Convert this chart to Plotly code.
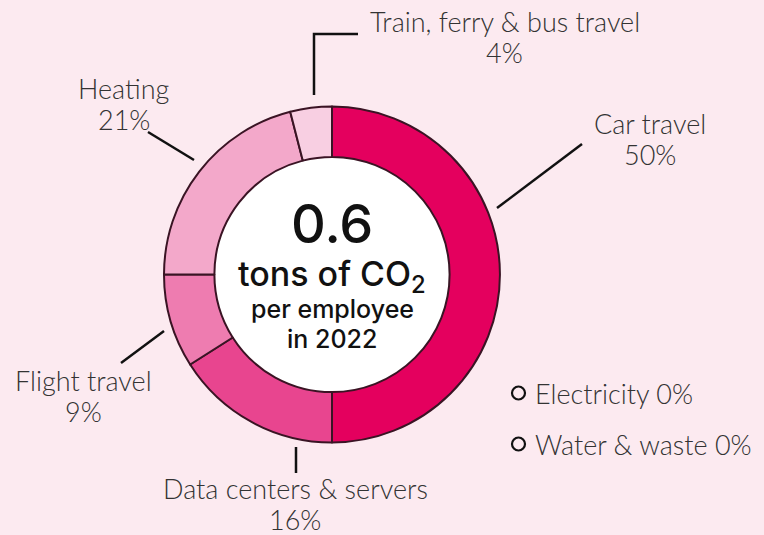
import plotly.graph_objects as go

# ── data ──────────────────────────────────────────────────────────────────────
categories = ["Car travel", "Data centers & servers", "Flight travel",
              "Heating", "Train, ferry & bus travel"]
shares = [50, 16, 9, 21, 4]            # % of total
zero_items = ["Electricity", "Water & waste"]
zero_shares = [0, 0]
tons_per_employee = 0.6
year = 2022

W, H = 764, 535
BG = "#fceaf0"
LINE = "#3a1424"
SLICE_COLORS = ["#e4005e", "#e8458f", "#ee7cb0", "#f3a8ca", "#f8cfe2"]
LABEL_FONT = dict(family="Lato, 'Open Sans', sans-serif", size=27, color="#333333", weight=300)
CENTER_FAMILY = "Inter, Lato, sans-serif"

# donut geometry in pixels
CX, CY, R = 332, 274.5, 168
HOLE = 0.70


def px(x):
    return x / W


def py(y):
    return 1 - y / H


fig = go.Figure()

fig.add_trace(go.Pie(
    labels=categories,
    values=shares,
    sort=False,
    direction="clockwise",
    rotation=0,
    hole=HOLE,
    textinfo="none",
    hovertemplate="%{label}: %{value}%<extra></extra>",
    marker=dict(colors=SLICE_COLORS, line=dict(color=LINE, width=2)),
    domain=dict(x=[px(CX - R), px(CX + R)], y=[py(CY + R), py(CY - R)]),
    showlegend=False,
))

shapes = []
# white centre of the ring
ri = R * HOLE
shapes.append(dict(type="circle", xref="paper", yref="paper", layer="below",
                   x0=px(CX - ri), x1=px(CX + ri), y0=py(CY + ri), y1=py(CY - ri),
                   fillcolor="white", line=dict(width=0)))

# leader lines (pixel coordinates of label connectors)
leaders = {
    "Car travel": [(497, 208), (582, 144)],
    "Data centers & servers": [(296, 447), (296, 473)],
    "Flight travel": [(164, 331), (121, 363)],
    "Heating": [(194, 160), (148, 132)],
    "Train, ferry & bus travel": [(314, 95), (314, 34), (358, 34)],
}
# centre of the two-line label block
label_pos = {
    "Car travel": (650, 139),
    "Data centers & servers": (295, 504),
    "Flight travel": (83, 396),
    "Heating": (124, 104),
    "Train, ferry & bus travel": (505, 37),
}

for cat in categories:
    pts = leaders[cat]
    path = "M " + " L ".join(f"{px(x)},{py(y)}" for x, y in pts)
    shapes.append(dict(type="path", xref="paper", yref="paper", path=path,
                       line=dict(color="#111111", width=2.5)))

annotations = []
for cat, val in zip(categories, shares):
    x, y = label_pos[cat]
    for txt, dy in ((cat, -15.5), (f"{val}%", 15.5)):
        annotations.append(dict(
            x=px(x), y=py(y + dy), xref="paper", yref="paper",
            text=txt, showarrow=False,
            xanchor="center", yanchor="middle", font=LABEL_FONT,
        ))

# zero-share categories as a small key
for i, (name, val) in enumerate(zip(zero_items, zero_shares)):
    yy = 393 + i * 51
    shapes.append(dict(type="circle", xref="paper", yref="paper",
                       x0=px(512), x1=px(525), y0=py(yy + 6.5), y1=py(yy - 6.5),
                       line=dict(color="#111111", width=2.2), fillcolor=BG))
    annotations.append(dict(
        x=px(533), y=py(yy), xref="paper", yref="paper",
        text=f"{name} {val}%", showarrow=False,
        xanchor="left", yanchor="middle", font=LABEL_FONT,
    ))

# centre text
center_lines = [
    (f"{tons_per_employee}", 54, 223),
    ("tons of CO<sub>2</sub>", 34, 276),
    ("per employee", 25, 309),
    (f"in {year}", 25, 339),
]
for txt, size, y in center_lines:
    annotations.append(dict(
        x=px(CX), y=py(y), xref="paper", yref="paper", text=txt,
        showarrow=False, xanchor="center", yanchor="middle",
        font=dict(family=CENTER_FAMILY, size=size, color="#111111", weight=500),
    ))

fig.update_layout(
    width=W, height=H,
    margin=dict(l=0, r=0, t=0, b=0),
    paper_bgcolor=BG,
    plot_bgcolor=BG,
    shapes=shapes,
    annotations=annotations,
)

fig.write_html("out.html", config={"displayModeBar": False},
               post_script="document.body.style.margin='0';")
